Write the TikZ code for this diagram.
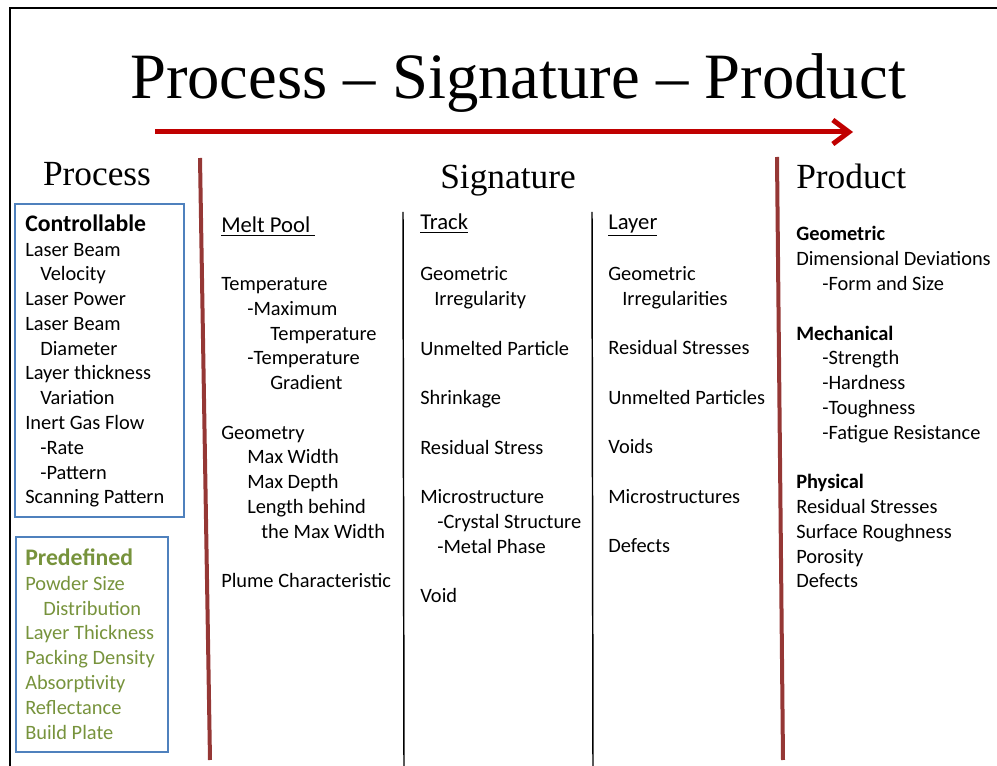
\documentclass[tikz,border=0pt]{standalone}
\usepackage{fontspec}
\setmainfont{Liberation Serif}
\newfontfamily\bodyfont{Carlito}
\usetikzlibrary{arrows.meta}

\definecolor{arrowred}{RGB}{192,0,0}
\definecolor{barbrown}{RGB}{149,55,53}
\definecolor{boxblue}{RGB}{79,129,189}
\definecolor{fixgreen}{RGB}{119,147,60}
\newcommand{\sh}[1]{\hspace*{#1}}
\newcommand{\bighead}[1]{\textbf{\fontsize{17.8}{18.6}\selectfont #1}}

\begin{document}
\begin{tikzpicture}[x=0.75pt,y=-0.75pt,
  head/.style={font=\fontsize{26.5}{30}\selectfont, anchor=base, inner sep=0pt},
  list/.style={font=\bodyfont\fontsize{15.3}{18.6}\selectfont, align=left, anchor=base west, inner sep=0pt},
  colhead/.style={list, font=\bodyfont\fontsize{17}{18.6}\selectfont},
  bar/.style={barbrown, line width=3pt},
  sep/.style={black, line width=1.1pt}]
  \useasboundingbox (0,0) rectangle (997,766);
  \draw[line width=1.5pt] (10,766) -- (10,8) -- (997,8);

  % title and direction arrow
  \node[font=\fontsize{48.5}{56}\selectfont, anchor=base, inner sep=0pt] (title) at (518,99) {Process \textendash{} Signature \textendash{} Product};
  \coordinate (arrowstart) at (155,132);
  \coordinate (arrowend) at (853,132);
  \draw[arrowred, line width=3.75pt, -{Straight Barb[length=12pt,width=18pt]}] (arrowstart) -- (arrowend);

  \node[head] (process) at (97,186) {Process};
  \node[head] (signature) at (508,189) {Signature};
  \node[head, anchor=base west] (product) at (796,189) {Product};

  % column dividers
  \coordinate (b1top) at (200,158);
  \coordinate (b1bot) at (210,760);
  \coordinate (b2top) at (777,157);
  \coordinate (b2bot) at (783,760);
  \draw[bar] (b1top) -- (b1bot);
  \draw[bar] (b2top) -- (b2bot);
  \coordinate (s1top) at (403,212);
  \coordinate (s1bot) at (404,766);
  \coordinate (s2top) at (592,212);
  \coordinate (s2bot) at (593,766);
  \draw[sep] (s1top) -- (s1bot);
  \draw[sep] (s2top) -- (s2bot);

  % process parameters (lists are placed by their last line)
  \draw[boxblue, line width=1.5pt] (15,204) rectangle (184,517);
  \node[list] (controllable) at (25,504) {\bighead{Controllable}\\
    Laser Beam\\ \sh{11.25pt}Velocity\\ Laser Power\\ Laser Beam\\ \sh{11.25pt}Diameter\\
    Layer thickness\\ \sh{11.25pt}Variation\\ Inert Gas Flow\\ \sh{11.25pt}-Rate\\
    \sh{11.25pt}-Pattern\\ Scanning Pattern};
  \draw[boxblue, line width=1.5pt] (16,537) rectangle (168,752);
  \node[list, text=fixgreen] (predefined) at (25,739) {\bighead{Predefined}\\
    Powder Size\\ \sh{13.5pt}Distribution\\ Layer Thickness\\ Packing Density\\
    Absorptivity\\ Reflectance\\ Build Plate};

  % signature columns
  \node[colhead] (meltpool) at (221,233) {\underline{Melt Pool\ }};
  \node[list] (meltlist) at (221,588) {Temperature\\ \sh{19.5pt}-Maximum\\
    \sh{36.75pt}Temperature\\ \sh{19.5pt}-Temperature\\ \sh{36.75pt}Gradient\\[18.6pt]
    Geometry\\ \sh{19.5pt}Max Width\\ \sh{19.5pt}Max Depth\\ \sh{19.5pt}Length behind\\
    \sh{30pt}the Max Width\\[18.6pt] Plume Characteristic};
  \node[colhead] (track) at (420,230) {\underline{Track}};
  \node[list] (tracklist) at (420,603) {Geometric\\ \sh{10.5pt}Irregularity\\[18.6pt]
    Unmelted Particle\\[18.6pt] Shrinkage\\[18.6pt] Residual Stress\\[18.6pt]
    Microstructure\\ \sh{12.75pt}-Crystal Structure\\ \sh{12.75pt}-Metal Phase\\[18.6pt] Void};
  \node[colhead] (layer) at (608,230) {\underline{Layer}};
  \node[list] (layerlist) at (608,553) {Geometric\\ \sh{10.5pt}Irregularities\\[18.6pt]
    Residual Stresses\\[18.6pt] Unmelted Particles\\[18.6pt] Voids\\[18.6pt]
    Microstructures\\[18.6pt] Defects};

  % product properties
  \node[list] (productlist) at (796,588) {\textbf{Geometric}\\ Dimensional Deviations\\
    \sh{19.5pt}-Form and Size\\[18.6pt] \textbf{Mechanical}\\ \sh{19.5pt}-Strength\\
    \sh{19.5pt}-Hardness\\ \sh{19.5pt}-Toughness\\ \sh{19.5pt}-Fatigue Resistance\\[18.6pt]
    \textbf{Physical}\\ Residual Stresses\\ Surface Roughness\\ Porosity\\ Defects};
\end{tikzpicture}
\end{document}
